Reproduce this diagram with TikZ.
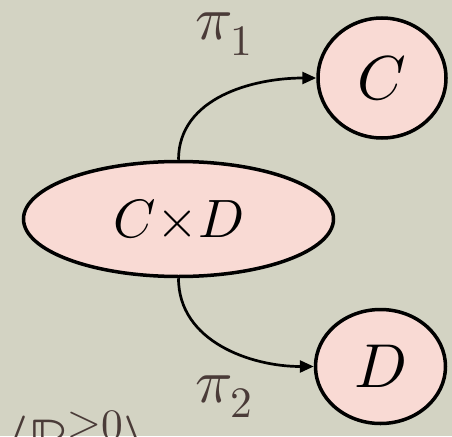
\documentclass[tikz,border=0pt]{standalone}
\usepackage{unicode-math}
\setmathfont{Latin Modern Math}
\usetikzlibrary{shapes.geometric,arrows.meta}
\definecolor{bgc}{HTML}{D3D3C3}
\definecolor{nodefill}{HTML}{F9DAD4}
\definecolor{labc}{HTML}{4A3B38}
\tikzset{
  objnode/.style={ellipse, draw=black, line width=3.5pt, fill=nodefill, inner sep=0pt},
  maparrow/.style={draw=black, line width=2.7pt, -{Triangle[length=14pt,width=12pt]}},
  maplabel/.style={text=labc, inner sep=0pt, font=\fontsize{62}{68}\selectfont}
}
\begin{document}
\begin{tikzpicture}[x=1pt,y=1pt]
\useasboundingbox (0,-436) rectangle (452,0);
\fill[bgc] (0,-436) rectangle (452,0);
\clip (0,-436) rectangle (452,0);
\node[objnode, minimum width=310pt, minimum height=115pt, font=\fontsize{54}{60}\selectfont] (prod) at (178.5,-219) {$C{\times}D$\hspace{20pt}};
\node[objnode, minimum width=128pt, minimum height=120pt, font=\fontsize{62}{68}\selectfont] (C) at (382,-78) {$C$};
\node[objnode, minimum width=130pt, minimum height=114pt, font=\fontsize{62}{68}\selectfont] (D) at (380.5,-366.5) {$D$};
\draw[maparrow] (prod.north) to[out=90,in=180] (C.west);
\draw[maparrow] (prod.south) to[out=-90,in=180] (D.west);
\node[maplabel, anchor=base west] (p1) at (195,-40) {$\pi_1$};
\node[maplabel, anchor=base west] (p2) at (195,-402) {$\pi_2$};
\node[maplabel, anchor=base west] (ps) at (4,-462) {$\langle\mathbb{P}^{\geq 0}\rangle$};
\end{tikzpicture}
\end{document}
